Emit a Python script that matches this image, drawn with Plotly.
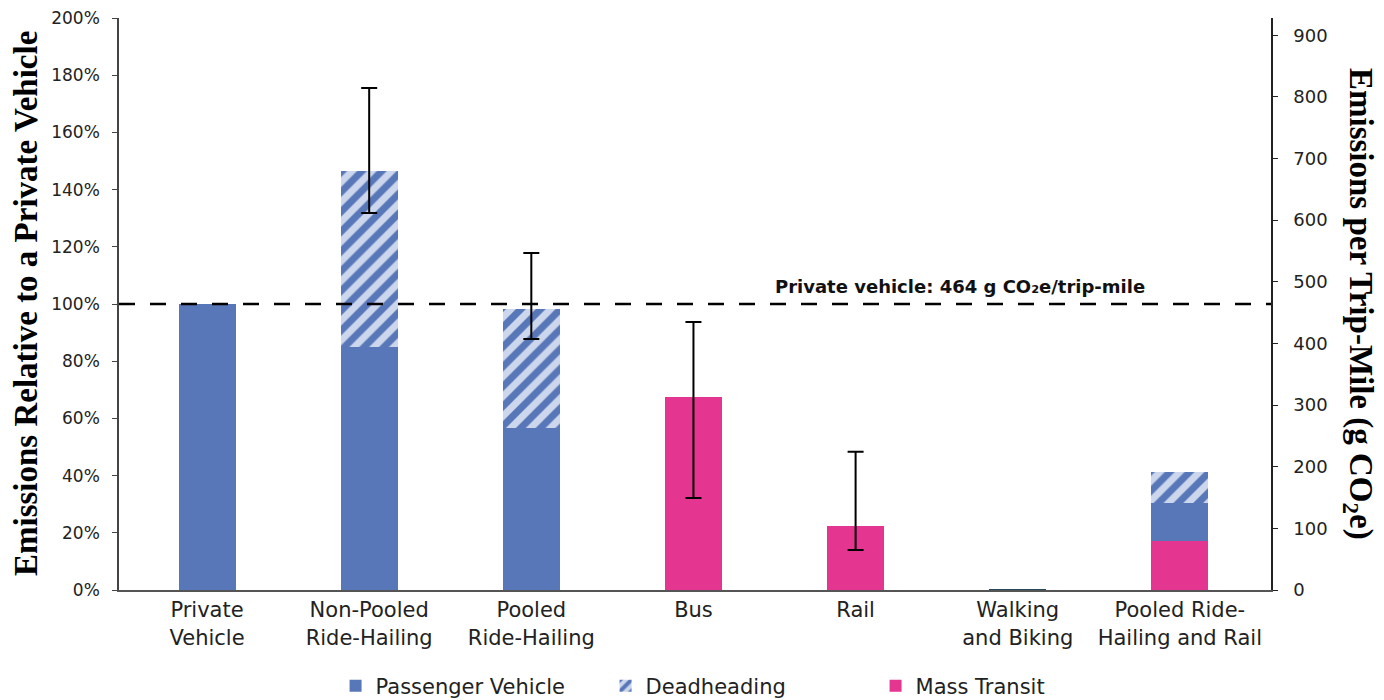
import plotly.graph_objects as go

categories = ["Private<br>Vehicle", "Non-Pooled<br>Ride-Hailing", "Pooled<br>Ride-Hailing",
              "Bus", "Rail", "Walking<br>and Biking", "Pooled Ride-<br>Hailing and Rail"]
mass_transit = [0, 0, 0, 0.675, 0.224, 0, 0.171]
passenger = [1.0, 0.85, 0.566, 0, 0, 0, 0.133]
deadheading = [0, 0.615, 0.417, 0, 0, 0, 0.109]
walking = [0, 0, 0, 0, 0, 0.002, 0]
err_center = [None, 1.465, 0.983, 0.675, 0.224, None, None]
err_high = [None, 1.755, 1.178, 0.937, 0.483, None, None]
err_low = [None, 1.318, 0.878, 0.322, 0.14, None, None]
private_g = 464
left_ticks = [0.0, 0.2, 0.4, 0.6, 0.8, 1.0, 1.2, 1.4, 1.6, 1.8, 2.0]
left_labels = ["0%", "20%", "40%", "60%", "80%", "100%", "120%", "140%", "160%", "180%", "200%"]
right_ticks = [0, 100, 200, 300, 400, 500, 600, 700, 800, 900]

BLUE = "#5877B9"
LIGHT = "#CCD6EC"
PINK = "#E43690"
FONT = "DejaVu Sans"
SERIF = "Liberation Serif"
x = list(range(len(categories)))

fig = go.Figure()
fig.add_trace(go.Bar(x=x, y=mass_transit, name="Mass Transit", marker=dict(color=PINK, line_width=0),
                     width=0.352, legendrank=3))
fig.add_trace(go.Bar(x=x, y=passenger, name="Passenger Vehicle", marker=dict(color=BLUE, line_width=0),
                     width=0.352, legendrank=1))
fig.add_trace(go.Bar(x=x, y=walking, name="Walking", marker=dict(color="#24495A", line_width=0),
                     width=0.352, showlegend=False))
fig.add_trace(go.Bar(x=x, y=deadheading, name="Deadheading",
                     marker=dict(color=LIGHT, line_width=0,
                                 pattern=dict(shape="/", fgcolor=BLUE, bgcolor=LIGHT, size=14,
                                              solidity=0.5, fillmode="replace")),
                     width=0.352, legendrank=2))

ep = [h - c if c is not None else None for h, c in zip(err_high, err_center)]
em = [c - l if c is not None else None for l, c in zip(err_low, err_center)]
fig.add_trace(go.Scatter(x=x, y=err_center, mode="markers", marker=dict(size=0.1, color="rgba(0,0,0,0)"),
                         showlegend=False, hoverinfo="skip",
                         error_y=dict(type="data", array=ep, arrayminus=em, symmetric=False,
                                      color="black", thickness=2, width=8)))
# invisible trace to activate right axis
fig.add_trace(go.Scatter(x=[x[0]], y=[0], yaxis="y2", mode="markers",
                         marker=dict(size=0.1, color="rgba(0,0,0,0)"), showlegend=False, hoverinfo="skip"))

fig.add_shape(type="line", xref="paper", x0=0, x1=1, yref="y", y0=1.0, y1=1.0,
              line=dict(color="black", width=2.5, dash="16px,15px"))
fig.add_annotation(x=0.8924, y=1.0, xref="paper", yref="y", xanchor="right", yanchor="bottom", yshift=5,
                   text="<b>Private vehicle: %d g CO₂e/trip-mile</b>" % private_g, showarrow=False,
                   font=dict(family=FONT, size=18, color="#111"))
fig.add_annotation(xref="paper", yref="paper", x=-0.0807, y=0.5, textangle=-90, showarrow=False,
                   xanchor="center", yanchor="middle",
                   text="<b>Emissions Relative to a Private Vehicle</b>",
                   font=dict(family=SERIF, size=33, color="black"))
fig.add_annotation(xref="paper", yref="paper", x=1.0764, y=0.5, textangle=90, showarrow=False,
                   xanchor="center", yanchor="middle",
                   text="<b>Emissions per Trip-Mile (g CO<sub>2</sub>e)</b>",
                   font=dict(family=SERIF, size=33, color="black"))

fig.update_layout(
    barmode="stack",
    width=1376, height=692,
    margin=dict(l=111, r=113, t=10, b=110),
    plot_bgcolor="white", paper_bgcolor="white",
    font=dict(family=FONT, size=17, color="#222"),
    bargap=0,
    xaxis=dict(tickmode="array", tickvals=x, ticktext=categories, range=[-0.543, 6.562],
               showline=True, linecolor="#555", linewidth=2, ticks="", showgrid=False,
               tickfont=dict(size=21, color="#222"), zeroline=False, automargin=False),
    yaxis=dict(range=[0, 2.0], tickmode="array", tickvals=left_ticks, ticktext=left_labels,
               showgrid=False, zeroline=False,
               showline=True, linecolor="#444", linewidth=1.5, ticks="outside", ticklen=5,
               tickcolor="#444", tickfont=dict(size=17, color="#222"), automargin=False,
               ticklabelstandoff=9, ticklabeloverflow="allow"),
    yaxis2=dict(overlaying="y", side="right", range=[0, 2.0 * private_g], tickvals=right_ticks,
                showgrid=False, zeroline=False, showline=True, linecolor="#222", linewidth=1.5,
                ticks="outside", ticklen=5, tickcolor="#222", tickfont=dict(size=18, color="#222"),
                automargin=False, ticklabelstandoff=12, ticklabeloverflow="allow"),
    legend=dict(orientation="h", x=0.188, xanchor="left", yref="container", y=0.0202, yanchor="middle",
                font=dict(size=21, color="#222"), traceorder="normal", entrywidth=225),
)

fig.write_html("out.html")
